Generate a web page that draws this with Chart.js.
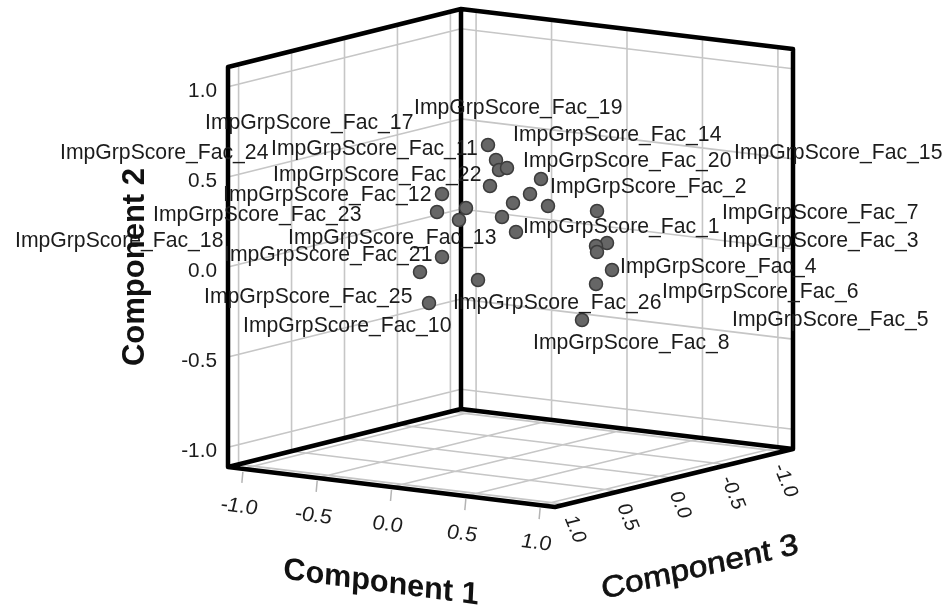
<!DOCTYPE html>
<html>
<head>
<meta charset="utf-8">
<style>
html,body{margin:0;padding:0;background:#fff;overflow:hidden}
canvas{display:block;filter:blur(0.35px)}
</style>
<script src="https://cdn.jsdelivr.net/npm/chart.js@4"></script>
</head>
<body>
<canvas id="c" width="949" height="611"></canvas>
<script>
// ---- values ----
const componentTicks = [-1.0, -0.5, 0.0, 0.5, 1.0];
const tickText = ['-1.0', '-0.5', '0.0', '0.5', '1.0'];
// Points as read on the picture plane (a 3-D cloud has only its projection to read)
const pointPlaneX = [442,437,466,459,442,420,429,478,488,496,499,507,490,541,530,513,502,548,516,597,607,596,597,612,596,582];
const pointPlaneY = [194,212,208,220,257,272,303,280,145,160,170,168,186,179,194,203,217,206,232,211,243,246,252,270,284,320];
const caseLabels = ['ImpGrpScore_Fac_17','ImpGrpScore_Fac_19','ImpGrpScore_Fac_14','ImpGrpScore_Fac_24','ImpGrpScore_Fac_11','ImpGrpScore_Fac_20','ImpGrpScore_Fac_15','ImpGrpScore_Fac_22','ImpGrpScore_Fac_2','ImpGrpScore_Fac_12','ImpGrpScore_Fac_23','ImpGrpScore_Fac_7','ImpGrpScore_Fac_1','ImpGrpScore_Fac_13','ImpGrpScore_Fac_3','ImpGrpScore_Fac_18','ImpGrpScore_Fac_21','ImpGrpScore_Fac_4','ImpGrpScore_Fac_6','ImpGrpScore_Fac_25','ImpGrpScore_Fac_26','ImpGrpScore_Fac_5','ImpGrpScore_Fac_10','ImpGrpScore_Fac_8'];
const caseLabelLeft = [205,414,513,60,271,523,734,273,550,223,153,722,523,288,722,15,224,620,662,204,453,732,243,533];
const caseLabelMid  = [123,108,135,153,149,161,153,175,187,195,215,213,227,238,241,241,255,267,292,297,303,320,326,343];

// ---- layout of the box on the picture plane ----
const AX = 1.1, AY = 1.11;
const floorL = [228,467], floorB = [461,409], floorR = [793,449], floorF = [555,507];
const boxHeight = 400;
const LABEL_FONT = '21.2px "Liberation Sans", Arial, sans-serif';

// oblique view: c1 runs L->F / B->R, c3 runs B->L / R->F, c2 runs up
function project(c1, c2, c3) {
  const u = (c1 + AX) / (2 * AX), v = (c3 + AX) / (2 * AX), w = (c2 + AY) / (2 * AY);
  const backX = floorB[0] + (floorR[0] - floorB[0]) * u, backY = floorB[1] + (floorR[1] - floorB[1]) * u;
  const frontX = floorL[0] + (floorF[0] - floorL[0]) * u, frontY = floorL[1] + (floorF[1] - floorL[1]) * u;
  return { x: backX + (frontX - backX) * v, y: backY + (frontY - backY) * v - boxHeight * w };
}
const GAP = { x: NaN, y: NaN };
function segs(list) {
  const out = [];
  list.forEach(s => { out.push(project(...s[0]), project(...s[1]), GAP); });
  return out;
}
const gridSegs = [];
componentTicks.forEach(t => {
  gridSegs.push([[ -AX, t, -AX], [ -AX, t, AX]]);   // left wall horizontals
  gridSegs.push([[ -AX, t, -AX], [ AX, t, -AX]]);   // right wall horizontals
  gridSegs.push([[ -AX, -AY, t], [ -AX, AY, t]]);   // left wall verticals
  gridSegs.push([[ t, -AY, -AX], [ t, AY, -AX]]);   // right wall verticals
  gridSegs.push([[ -AX, -AY, t], [ AX, -AY, t]]);   // floor
  gridSegs.push([[ t, -AY, -AX], [ t, -AY, AX]]);   // floor
});
const frameSegs = [
  [[-AX,-AY,AX],[-AX,AY,AX]], [[-AX,-AY,-AX],[-AX,AY,-AX]], [[AX,-AY,-AX],[AX,AY,-AX]],
  [[-AX,AY,AX],[-AX,AY,-AX]], [[-AX,AY,-AX],[AX,AY,-AX]],
  [[-AX,-AY,AX],[-AX,-AY,-AX]], [[-AX,-AY,-AX],[AX,-AY,-AX]],
  [[-AX,-AY,AX],[AX,-AY,AX]], [[AX,-AY,AX],[AX,-AY,-AX]]
];
const tickData = [];
componentTicks.forEach(t => {
  const p = project(t, -AY, AX);
  tickData.push({ x: p.x, y: p.y + 3 }, { x: p.x - 1, y: p.y + 14 }, GAP);
});

function skewText(ctx, text, x, y, font, a, b, c, d, color, align, stroke) {
  ctx.save();
  ctx.transform(a, b, c, d, x, y);
  ctx.font = font;
  ctx.fillStyle = color;
  ctx.textAlign = align || 'center';
  ctx.textBaseline = 'middle';
  ctx.fillText(text, 0, 0);
  if (stroke) { ctx.strokeStyle = color; ctx.lineWidth = stroke; ctx.strokeText(text, 0, 0); }
  ctx.restore();
}

const textPlugin = {
  id: 'boxText',
  afterDatasetsDraw(chart) {
    const ctx = chart.ctx, sx = chart.scales.x, sy = chart.scales.y;
    const px = v => sx.getPixelForValue(v), py = v => sy.getPixelForValue(v);
    const ink = '#1c1c1c';
    // case labels
    ctx.save();
    ctx.font = LABEL_FONT; ctx.fillStyle = ink; ctx.textAlign = 'left'; ctx.textBaseline = 'middle';
    caseLabels.forEach((t, i) => ctx.fillText(t, px(caseLabelLeft[i]), py(caseLabelMid[i])));
    ctx.restore();
    // component 2 ticks
    componentTicks.forEach((t, i) => {
      const p = project(-AX, t, AX);
      skewText(ctx, tickText[i], px(p.x - 11), py(p.y + 4), '20.8px "Liberation Sans", Arial, sans-serif', 1, 0, 0, 1, ink, 'right');
    });
    // component 1 ticks
    componentTicks.forEach((t, i) => {
      const p = project(t, -AY, AX);
      skewText(ctx, tickText[i], px(p.x - 4), py(p.y + 38), 'italic 20.5px "Liberation Sans", Arial, sans-serif', 1.05, 0.13, -0.03, 1, ink);
    });
    // component 3 ticks
    componentTicks.forEach((t, i) => {
      const p = project(AX, -AY, t);
      skewText(ctx, tickText[i], px(p.x + 6 + 3 * t), py(p.y + 27 - 2 * t), '20px "Liberation Sans", Arial, sans-serif', 0.38, 0.93, -0.97, 0.25, ink);
    });
    // axis titles
    skewText(ctx, 'Component 2', px(135), py(267), 'bold 31px "Liberation Sans", Arial, sans-serif', 0, -1, 1, 0, '#111');
    skewText(ctx, 'Component 1', px(381), py(583), 'bold 28px "Liberation Sans", Arial, sans-serif', 1.09, 0.145, -0.05, 1.1, '#111');
    skewText(ctx, 'Component 3', px(700), py(568), '28px "Liberation Sans", Arial, sans-serif', 1.17, -0.27, 0.16, 1.05, '#111', 'center', 0.7);
  }
};

new Chart(document.getElementById('c'), {
  type: 'scatter',
  data: {
    datasets: [
      { label: 'Cases', data: pointPlaneX.map((x, i) => ({ x, y: pointPlaneY[i] })),
        pointRadius: 6.5, pointBackgroundColor: '#666666', pointBorderColor: '#3c3c3c', pointBorderWidth: 1.5, showLine: false },
      { label: 'Frame', data: segs(frameSegs), showLine: true, pointRadius: 0, borderColor: '#000', borderWidth: 4.5, borderCapStyle: 'round', spanGaps: false },
      { label: 'Ticks', data: tickData, showLine: true, pointRadius: 0, borderColor: '#b4b4b4', borderWidth: 1.5, spanGaps: false },
      { label: 'Grid', data: segs(gridSegs), showLine: true, pointRadius: 0, borderColor: '#c6c6c6', borderWidth: 1.6, spanGaps: false }
    ]
  },
  options: {
    responsive: false,
    animation: false,
    devicePixelRatio: 1,
    layout: { padding: 0, autoPadding: false },
    plugins: { legend: { display: false }, tooltip: { enabled: false } },
    scales: {
      x: { type: 'linear', display: false, min: 0, max: 949 },
      y: { type: 'linear', display: false, min: 0, max: 611, reverse: true }
    }
  },
  plugins: [textPlugin]
});
</script>
</body>
</html>
